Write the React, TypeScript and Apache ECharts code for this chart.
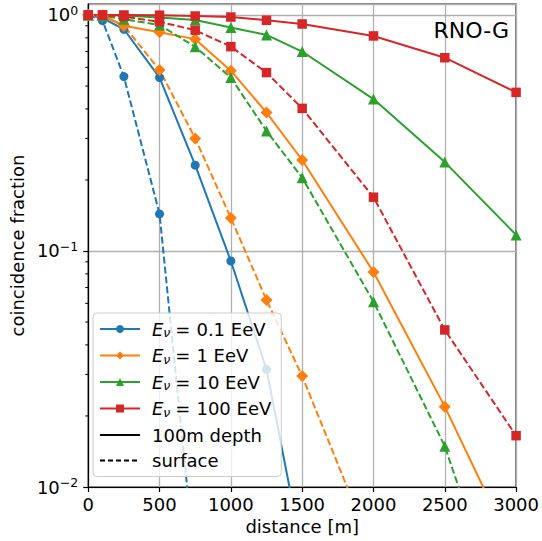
import React, { useEffect, useRef } from "react";
import * as echarts from "echarts";

// distance [m]
const distances = [0, 100, 250, 500, 750, 1000, 1250, 1500, 2000, 2500, 3000];

// energies (legend labels)
const energyLabels = ["0.1 EeV", "1 EeV", "10 EeV", "100 EeV"];
const energyColors = ["#1f77b4", "#ff7f0e", "#2ca02c", "#d62728"];
const energySymbols = ["circle", "diamond", "triangle", "rect"];
const energySymbolSizes = [9, 12, 11, 9.5];

// coincidence fraction, 100m depth (solid)
const depth01 = [1.0, 0.97, 0.87, 0.543, 0.231, 0.0907, 0.0315, 0.0053];
const depth1 = [1.0, 0.995, 0.9, 0.845, 0.79, 0.581, 0.386, 0.243, 0.0815, 0.0219, 0.0051];
const depth10 = [1.0, 1.0, 0.995, 0.975, 0.953, 0.885, 0.823, 0.7, 0.44, 0.238, 0.117];
const depth100 = [1.0, 1.0, 1.0, 0.998, 0.99, 0.98, 0.95, 0.916, 0.815, 0.659, 0.47];

// coincidence fraction, surface (dashed)
const surface01 = [1.0, 0.946, 0.548, 0.1435, 0.0046];
const surface1 = [1.0, 0.99, 0.9, 0.585, 0.3, 0.138, 0.062, 0.0295, 0.0053];
const surface10 = [1.0, 0.995, 0.96, 0.907, 0.733, 0.543, 0.3225, 0.2045, 0.061, 0.0149, 0.0019];
const surface100 = [1.0, 1.0, 0.985, 0.935, 0.862, 0.734, 0.57, 0.402, 0.169, 0.0463, 0.0165];

const depthSets = [depth01, depth1, depth10, depth100];
const surfaceSets = [surface01, surface1, surface10, surface100];

// y axis (log10) extent and minor tick values
const yMinDecade = -2;
const yMaxValue = 1.113;
const minorTickValues = [
  0.02, 0.03, 0.04, 0.05, 0.06, 0.07, 0.08, 0.09,
  0.2, 0.3, 0.4, 0.5, 0.6, 0.7, 0.8, 0.9,
];

const FONT = "DejaVu Sans";

export default function App() {
  const ref = useRef<HTMLDivElement>(null);

  useEffect(() => {
    if (!ref.current) return;
    const chart = echarts.init(ref.current, undefined, { renderer: "svg" });

    const toPoints = (vals: number[]) =>
      vals.map((v, i) => [distances[i], Math.log10(v)]);

    const series: any[] = [];
    energyLabels.forEach((name, k) => {
      series.push({
        name,
        type: "line",
        data: toPoints(depthSets[k]),
        symbol: energySymbols[k],
        symbolSize: energySymbolSizes[k],
        itemStyle: { color: energyColors[k] },
        lineStyle: { color: energyColors[k], width: 2, type: "solid" },
        clip: true,
        z: 2,
      });
      series.push({
        name,
        type: "line",
        data: toPoints(surfaceSets[k]),
        symbol: energySymbols[k],
        symbolSize: energySymbolSizes[k],
        itemStyle: { color: energyColors[k] },
        lineStyle: { color: energyColors[k], width: 2, type: [7, 3] },
        clip: true,
        z: 2,
      });
    });
    series.push({
      name: "100m depth",
      type: "line",
      data: [],
      symbol: "none",
      itemStyle: { color: "#000", opacity: 0 },
      lineStyle: { color: "#000", width: 2, type: "solid" },
    });
    series.push({
      name: "surface",
      type: "line",
      data: [],
      symbol: "none",
      itemStyle: { color: "#000", opacity: 0 },
      lineStyle: { color: "#000", width: 2, type: [5, 3] },
    });
    series.push({
      type: "custom",
      silent: true,
      data: minorTickValues.map((v) => [0, Math.log10(v)]),
      renderItem: (_p: any, api: any) => {
        const pt = api.coord([0, api.value(1)]);
        return {
          type: "line",
          shape: { x1: pt[0] - 3, y1: pt[1], x2: pt[0], y2: pt[1] },
          style: { stroke: "#000", lineWidth: 1 },
        };
      },
      z: 3,
    });

    const supOf = (v: number) => (v < 0 ? "\u2212" + String(-v) : String(v));

    chart.setOption({
      animation: false,
      backgroundColor: "#fff",
      textStyle: { fontFamily: FONT },
      grid: {
        left: 83,
        right: 23,
        top: 4,
        bottom: 54,
        show: true,
        borderColor: "#000",
        borderWidth: 1.2,
        backgroundColor: "transparent",
      },
      xAxis: {
        type: "value",
        min: 0,
        max: 3000,
        interval: 500,
        name: "distance [m]",
        nameLocation: "middle",
        nameGap: 27,
        nameTextStyle: { fontSize: 18, color: "#000", fontFamily: FONT },
        axisLine: { show: true, onZero: false, lineStyle: { color: "#000", width: 1.2 } },
        axisTick: { show: true, length: 5, lineStyle: { color: "#000", width: 1.2 } },
        axisLabel: {
          fontSize: 18,
          color: "#000",
          margin: 8,
          fontFamily: FONT,
          formatter: (v: number) => String(v),
        },
        splitLine: { show: true, lineStyle: { color: "#b0b0b0", width: 1.3 } },
      },
      yAxis: {
        type: "value",
        min: yMinDecade,
        max: Math.log10(yMaxValue),
        interval: 1,
        name: "coincidence fraction",
        nameLocation: "middle",
        nameRotate: 90,
        nameGap: 56,
        nameTextStyle: { fontSize: 18, color: "#000", fontFamily: FONT },
        axisLine: { show: true, onZero: false, lineStyle: { color: "#000", width: 1.2 } },
        axisTick: { show: true, length: 5, lineStyle: { color: "#000", width: 1.2 } },
        axisLabel: {
          margin: 10,
          showMaxLabel: false,
          formatter: (v: number) => {
            if (Math.abs(v - Math.round(v)) > 1e-6) return "";
            return "{b|10}{s|" + supOf(Math.round(v)) + "}";
          },
          rich: {
            b: { fontSize: 18, color: "#000", fontFamily: FONT },
            s: { fontSize: 12.5, color: "#000", fontFamily: FONT, padding: [0, 0, 9, 0] },
          },
        },
        splitLine: { show: true, lineStyle: { color: "#b0b0b0", width: 1.3 } },
      },
      legend: {
        orient: "vertical",
        left: 93,
        top: 313,
        z: 20,
        padding: [7, 10, 7, 6],
        itemGap: 7.5,
        itemWidth: 40,
        itemHeight: 10,
        backgroundColor: "rgba(255,255,255,0.8)",
        borderColor: "#cccccc",
        borderWidth: 1,
        borderRadius: 4,
        data: [...energyLabels, "100m depth", "surface"],
        formatter: (name: string) =>
          energyLabels.includes(name)
            ? "{i|E}{n|\u03bd}{q|=}{t|" + name + "}"
            : "{t|" + name + "}",
        textStyle: {
          fontSize: 18,
          color: "#000",
          fontFamily: FONT,
          padding: [0, 0, 0, 7],
          rich: {
            i: { fontSize: 18, fontStyle: "italic", color: "#000", fontFamily: FONT },
            n: { fontSize: 12.5, fontStyle: "italic", color: "#000", fontFamily: FONT, padding: [7, 0, 0, 0] },
            q: { fontSize: 18, color: "#000", fontFamily: FONT, padding: [0, 6, 0, 5] },
            t: { fontSize: 18, color: "#000", fontFamily: FONT },
          },
        },
      },
      graphic: [
        {
          type: "text",
          x: 509,
          y: 30,
          style: {
            text: "RNO-G",
            fontSize: 22,
            fontFamily: FONT,
            fill: "#000",
            align: "right",
            verticalAlign: "middle",
          },
          z: 20,
        },
      ],
      series,
    });

    return () => chart.dispose();
  }, []);

  return (
    <div
      ref={ref}
      style={{ position: "fixed", left: 0, top: 0, width: 542, height: 541 }}
    />
  );
}
